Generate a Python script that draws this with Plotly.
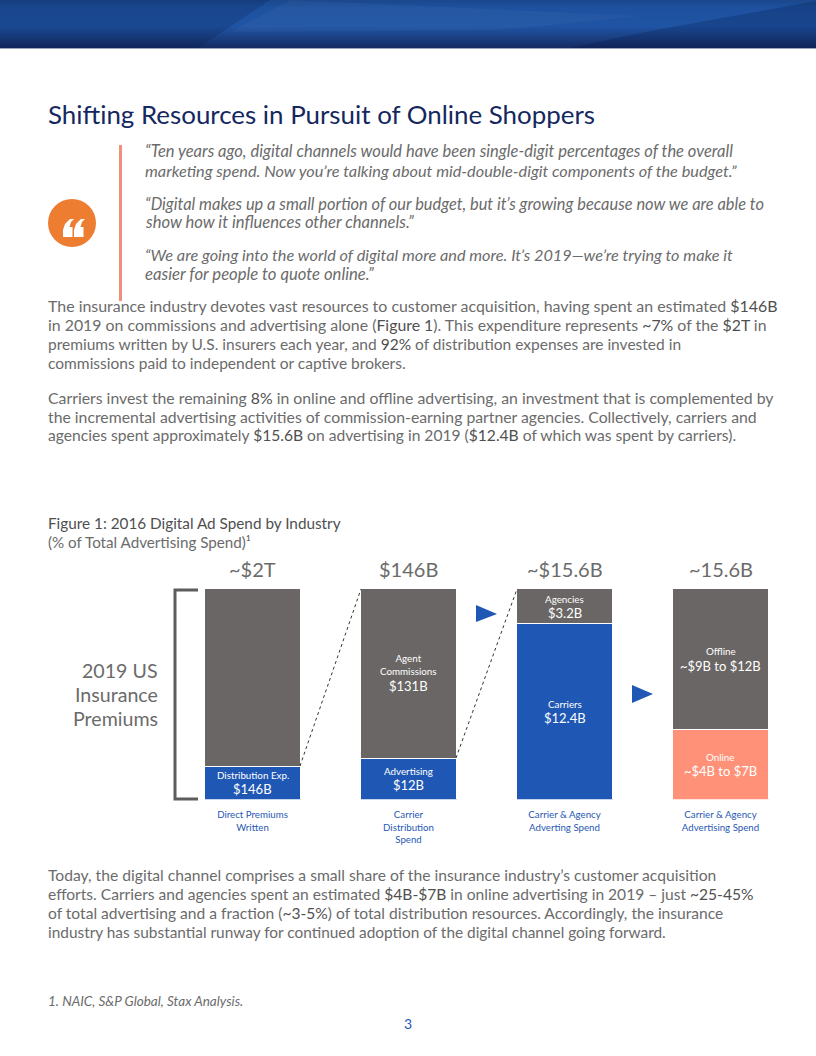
import plotly.graph_objects as go

W, H = 816, 1056
categories = ["Direct Premiums<br>Written", "Carrier<br>Distribution<br>Spend",
              "Carrier &amp; Agency<br>Adverting Spend", "Carrier &amp; Agency<br>Advertising Spend"]
totals = ["~$2T", "$146B", "~$15.6B", "~15.6B"]
lower_values = [15.7, 19.5, 83.4, 33.0]
upper_values = [84.3, 80.5, 16.6, 67.0]
lower_colors = ["#1F58B4", "#1F58B4", "#1F58B4", "#FE9177"]
upper_color = "#6A6665"
lower_names = ["Distribution Exp.", "Advertising", "Carriers", "Online"]
lower_amounts = ["$146B", "$12B", "$12.4B", "~$4B to $7B"]
upper_names = ["", "Agent<br>Commissions", "Agencies", "Offline"]
upper_amounts = ["", "$131B", "$3.2B", "~$9B to $12B"]

FONT = "Lato"
GREY = "#6b6b6b"
DARK = "#4f4f4f"

def px(x): return x / W
def py(y): return 1 - y / H

fig = go.Figure()
fig.add_bar(x=categories, y=lower_values, marker=dict(color=lower_colors, line=dict(color="white", width=1)))
fig.add_bar(x=categories, y=upper_values, marker=dict(color=upper_color, line=dict(color="white", width=1)))

ann = []
def text(x, y, s, size=16, color=GREY, anchor="left", **kw):
    ann.append(dict(x=px(x), y=py(y), xref="paper", yref="paper", text=s, showarrow=False, borderpad=0,
                    xanchor=anchor, yanchor="middle", font=dict(family=FONT, size=size, color=color), **kw))

def b(s):
    return f'<span style="color:{DARK}">{s}</span>'

text(47, 114, "Shifting Resources in Pursuit of Online Shoppers", 25.9, "#14285f")

quotes = [(151, 16.5, "“Ten years ago, digital channels would have been single-digit percentages of the overall"),
          (170, 16.3, "marketing spend. Now you’re talking about mid-double-digit components of the budget.”"),
          (203, 16.4, "“Digital makes up a small portion of our budget, but it’s growing because now we are able to"),
          (222, 16.6, "show how it influences other channels.”"),
          (255, 16.25, "“We are going into the world of digital more and more. It’s 2019—we’re trying to make it"),
          (274, 16.7, "easier for people to quote online.”")]
for y, size, s in quotes:
    text(144, y, f"<i>{s}</i>", size)

body = [(305, 15.93, f"The insurance industry devotes vast resources to customer acquisition, having spent an estimated {b('$146B')}"),
        (324, 15.87, f"in 2019 on commissions and advertising alone ({b('Figure 1')}). This expenditure represents {b('~7%')} of the {b('$2T')} in"),
        (344, 15.53, f"premiums written by U.S. insurers each year, and {b('92%')} of distribution expenses are invested in"),
        (363, 15.54, "commissions paid to independent or captive brokers."),
        (397, 15.8, f"Carriers invest the remaining {b('8%')} in online and offline advertising, an investment that is complemented by"),
        (416, 15.78, "the incremental advertising activities of commission-earning partner agencies. Collectively, carriers and"),
        (435, 15.61, f"agencies spent approximately {b('$15.6B')} on advertising in 2019 ({b('$12.4B')} of which was spent by carriers)."),
        (875, 15.66, "Today, the digital channel comprises a small share of the insurance industry’s customer acquisition"),
        (894, 15.58, f"efforts. Carriers and agencies spent an estimated {b('$4B-$7B')} in online advertising in 2019 – just {b('~25-45%')}"),
        (913, 15.58, f"of total advertising and a fraction ({b('~3-5%')}) of total distribution resources. Accordingly, the insurance"),
        (932, 15.4, "industry has substantial runway for continued adoption of the digital channel going forward.")]
for y, size, s in body:
    text(47, y, s, size)

text(47, 523, "Figure 1: 2016 Digital Ad Spend by Industry", 15.3, DARK)
text(47, 542, "(% of Total Advertising Spend)¹", 15.2, GREY)
text(47, 1001, "<i>1. NAIC, S&amp;P Global, Stax Analysis.</i>", 13.5, GREY)
text(408, 1023, "3", 14, "#1F58B4", anchor="center")
for y, s in [(670, "2019 US"), (694, "Insurance"), (718, "Premiums")]:
    text(159, y, s, 19.6, GREY, anchor="right")

def label(cat, y, s, size, color="white"):
    ann.append(dict(x=cat, y=y, xref="x", yref="y", text=s, showarrow=False, yanchor="middle",
                    font=dict(family=FONT, size=size, color=color)))

for i, c in enumerate(categories):
    ann.append(dict(x=c, y=100, xref="x", yref="y", text=totals[i], showarrow=False, yanchor="bottom", yshift=6,
                    font=dict(family=FONT, size=20, color=GREY)))
NAME, AMT = 9.8, 13
# segment labels at heights
label(categories[0], 11.4, lower_names[0], NAME)
label(categories[0], 4.8, lower_amounts[0], AMT)
label(categories[1], 13.3, lower_names[1], NAME)
label(categories[1], 6.7, lower_amounts[1], AMT)
label(categories[2], 45.2, lower_names[2], NAME)
label(categories[2], 38.6, lower_amounts[2], AMT)
label(categories[3], 20, lower_names[3], NAME)
label(categories[3], 13.3, lower_amounts[3], AMT)
label(categories[1], 63.8, upper_names[1], NAME)
label(categories[1], 53.8, upper_amounts[1], AMT)
label(categories[2], 95.2, upper_names[2], NAME)
label(categories[2], 88.6, upper_amounts[2], AMT)
label(categories[3], 70.5, upper_names[3], NAME)
label(categories[3], 63.3, upper_amounts[3], AMT)

shapes = []
def pshape(**kw):
    shapes.append(dict(xref="paper", yref="paper", **kw))

# header band gradient
stops = [(0, (27, 72, 142)), (8, (30, 82, 160)), (26, (31, 84, 164)), (38, (26, 62, 128)), (48, (20, 42, 98))]
for y in range(48):
    for (y0, c0), (y1, c1) in zip(stops, stops[1:]):
        if y0 <= y < y1:
            t = (y - y0) / (y1 - y0)
            c = tuple(round(c0[k] + (c1[k] - c0[k]) * t) for k in range(3))
    pshape(type="rect", x0=0, x1=1, y0=py(y), y1=py(y + 1), line=dict(width=0), fillcolor=f"rgb{c}")
def poly(points):
    return "M " + " L ".join(f"{px(x):.5f},{py(y):.5f}" for x, y in points) + " Z"
pshape(type="path", path=poly([(0, 0), (270, 0), (198, 48), (0, 48)]), fillcolor="rgba(0,10,50,0.16)", line=dict(width=0))
pshape(type="path", path=poly([(290, 0), (640, 16), (500, 30), (230, 32)]), fillcolor="rgba(255,255,255,0.03)", line=dict(width=0))
pshape(type="path", path=poly([(816, 1), (816, 48), (570, 48), (650, 31)]), fillcolor="rgba(0,10,50,0.20)", line=dict(width=0))
pshape(type="line", x0=0, x1=1, y0=py(48.5), y1=py(48.5), line=dict(color="#9aa6bf", width=1))

# quote decorations
pshape(type="rect", x0=px(119), x1=px(122), y0=py(301), y1=py(145), fillcolor="#F0907A", line=dict(width=0))
pshape(type="circle", x0=px(48), x1=px(96), y0=py(247), y1=py(199), fillcolor="#ED7D31", line=dict(width=0))
for dx in (0, 11):
    pshape(type="path", path=poly([(63 + dx, 237), (72.5 + dx, 237), (72.5 + dx, 227), (69.5 + dx, 227),
                                   (71 + dx, 222), (74 + dx, 219), (70 + dx, 219), (65 + dx, 224), (63 + dx, 230)]),
           fillcolor="white", line=dict(width=0))

# bracket
pshape(type="path", path=f"M {px(198)},{py(590)} L {px(175)},{py(590)} L {px(175)},{py(799)} L {px(198)},{py(799)}",
       line=dict(color="#5f5c5c", width=3))
# dotted connectors
pshape(type="line", x0=px(300), y0=py(766), x1=px(361), y1=py(589), line=dict(color="#333333", width=1, dash="dot"))
pshape(type="line", x0=px(456), y0=py(758), x1=px(517), y1=py(589), line=dict(color="#333333", width=1, dash="dot"))
# arrows
pshape(type="path", path=poly([(476, 605), (497, 614), (476, 622)]), fillcolor="#1F58B4", line=dict(width=0))
pshape(type="path", path=poly([(632, 685), (653, 694), (632, 703)]), fillcolor="#1F58B4", line=dict(width=0))

fig.update_layout(
    width=W, height=H, margin=dict(l=0, r=0, t=0, b=0), paper_bgcolor="white", plot_bgcolor="rgba(0,0,0,0)",
    barmode="stack", bargap=1 - 96 / 156, showlegend=False, annotations=ann, shapes=shapes,
    xaxis=dict(domain=[px(174.5), px(798.5)], showline=False, showgrid=False, zeroline=False,
               ticks="outside", ticklen=6, tickcolor="rgba(0,0,0,0)",
               tickfont=dict(family=FONT, size=9.7, color="#1F58B4"), tickangle=0),
    yaxis=dict(domain=[py(799.5), py(588.5)], range=[0, 100], visible=False),
)
fig.write_html("out.html", config=dict(displayModeBar=False),
               post_script="document.body.style.margin='0';window.dispatchEvent(new Event('resize'));")
